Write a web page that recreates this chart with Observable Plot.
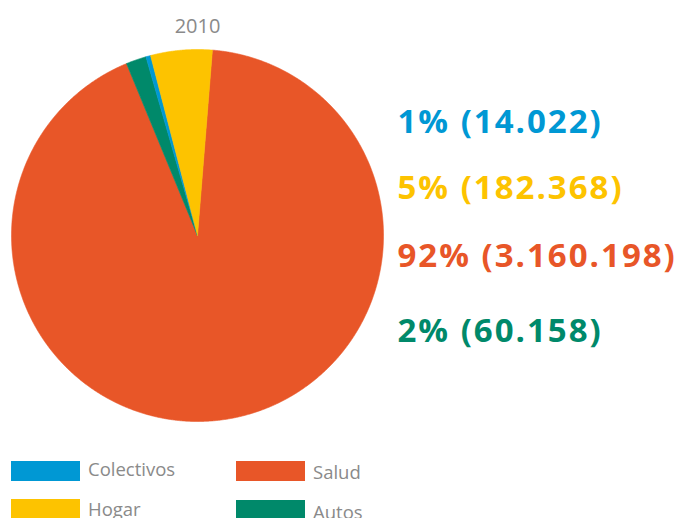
<!DOCTYPE html>
<html>
<head>
<meta charset="utf-8">
<script src="https://cdn.jsdelivr.net/npm/d3@7"></script>
<script src="https://cdn.jsdelivr.net/npm/@observablehq/plot@0.6"></script>
<style>
  body { margin: 0; background: #fff; font-family: "Open Sans", sans-serif; }
  #wrap { position: relative; width: 681px; height: 518px; overflow: hidden; }
  #legend { position: relative; width: 681px; height: 68px; }
  .sw { width: 69px; height: 20px; }
  .lab { position: absolute; font-size: 18.5px; color: #8a8a8a; white-space: nowrap; }
</style>
</head>
<body>
<div id="wrap"></div>
<script>
// ---- data ----
const title = "2010";
const categories = ["Colectivos", "Hogar", "Salud", "Autos"];
const values = [14022, 182368, 3160198, 60158];
const percentLabels = ["1%", "5%", "92%", "2%"];
const valueLabels = ["14.022", "182.368", "3.160.198", "60.158"];
const pieOrder = ["Salud", "Autos", "Colectivos", "Hogar"]; // clockwise
const colors = ["#0098d4", "#fdc300", "#e85628", "#00896a"];

// ---- geometry helpers (pixel layout) ----
const cx = 197, cy = 235, R = 186;
const toX = px => (px - cx) / R;
const toY = py => (cy - py) / R;

const rows = categories.map((c, i) => ({category: c, value: values[i], pct: percentLabels[i], lab: valueLabels[i], i}));
const ordered = pieOrder.map(c => rows.find(r => r.category === c));
const start = 4.6 * Math.PI / 180;
const arcs = d3.pie().sort(null).value(d => d.value).startAngle(start).endAngle(start + 2 * Math.PI)(ordered);

const pts = [];
for (const a of arcs) {
  const cat = a.data.category;
  pts.push({category: cat, x: 0, y: 0});
  const n = Math.max(2, Math.ceil((a.endAngle - a.startAngle) / (0.25 * Math.PI / 180)));
  for (let k = 0; k <= n; k++) {
    const t = a.startAngle + (a.endAngle - a.startAngle) * k / n;
    pts.push({category: cat, x: Math.sin(t), y: Math.cos(t)});
  }
  pts.push({category: cat, x: 0, y: 0});
}

const labelCenters = [122, 188, 256, 331];

const chart = Plot.plot({
  width: 681,
  height: 450,
  margin: 0,
  style: {fontFamily: "'Open Sans', sans-serif", background: "#fff"},
  x: {domain: [-1, 1], range: [cx - R, cx + R], axis: null},
  y: {domain: [-1, 1], range: [cy + R, cy - R], axis: null},
  color: {domain: categories, range: colors},
  marks: [
    Plot.line(pts, {x: "x", y: "y", z: "category", fill: "category", stroke: "category", strokeWidth: 0.6, curve: "linear"}),
    Plot.text([title], {x: () => 0, y: () => toY(26), text: d => d, fontSize: 20, fill: "#8a8a8a", textAnchor: "middle", lineAnchor: "middle"}),
    Plot.text(rows, {
      x: () => toX(397),
      y: d => toY(labelCenters[d.i]),
      text: d => `${d.pct} (${d.lab})`,
      fill: "category",
      fontSize: 33,
      fontWeight: 700,
      textAnchor: "start",
      lineAnchor: "middle"
    })
  ]
});
d3.select(chart).selectAll('g[aria-label="text"]').each(function(d, i) { if (i === 1) d3.select(this).attr("letter-spacing", "2px"); });

const wrap = document.getElementById("wrap");
wrap.appendChild(chart);

// ---- legend (HTML below the SVG) ----
const legend = document.createElement("div");
legend.id = "legend";
const legendPos = {
  Colectivos: {sx: 11, sy: 11, tx: 88, ty: 6},
  Salud: {sx: 236, sy: 11, tx: 313, ty: 9},
  Hogar: {sx: 11, sy: 49, tx: 88, ty: 46},
  Autos: {sx: 236, sy: 50, tx: 313, ty: 49}
};
categories.forEach((c, i) => {
  const p = legendPos[c];
  const sw = document.createElement("div");
  sw.className = "sw";
  sw.style.position = "absolute";
  sw.style.left = p.sx + "px";
  sw.style.top = p.sy + "px";
  sw.style.background = colors[i];
  legend.appendChild(sw);
  const t = document.createElement("div");
  t.className = "lab";
  t.style.left = p.tx + "px";
  t.style.top = p.ty + "px";
  t.textContent = c;
  legend.appendChild(t);
});
wrap.appendChild(legend);
</script>
</body>
</html>
